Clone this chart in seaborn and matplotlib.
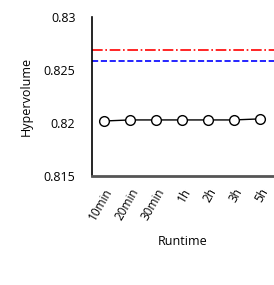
import numpy as np
import pandas as pd
import seaborn as sns
import matplotlib.pyplot as plt

# values
runtimes = ["10min", "20min", "30min", "1h", "2h", "3h", "5h"]
hypervolume = [0.8202, 0.8203, 0.8203, 0.8203, 0.8203, 0.8203, 0.8204]
ref_red = 0.8269
ref_blue = 0.8259

df = pd.DataFrame({"Runtime": runtimes, "Hypervolume": hypervolume})

sns.set_style("white")
plt.rcParams['font.family'] = ['Open Sans', 'DejaVu Sans']
plt.rcParams['text.color'] = 'black'
plt.rcParams['xtick.color'] = 'black'
plt.rcParams['ytick.color'] = 'black'
plt.rcParams['axes.labelcolor'] = 'black'

fig = plt.figure(figsize=(2.74, 2.85), dpi=100)
ax = fig.add_axes([0.336, 0.382, 0.664, 0.558])

sns.lineplot(data=df, x="Runtime", y="Hypervolume", sort=False, ax=ax,
             color="black", linewidth=1, marker="o", markersize=7,
             markerfacecolor="white", markeredgecolor="black", markeredgewidth=1)
ax.axhline(ref_red, color="red", linestyle="-.", linewidth=1.2)
ax.axhline(ref_blue, color="blue", linestyle="--", linewidth=1.2)

ax.set_xlim(-0.46, 6.54)
ax.set_ylim(0.815, 0.83)
ax.set_yticks([0.815, 0.82, 0.825, 0.83])
ax.set_yticklabels(["0.815", "0.82", "0.825", "0.83"], fontsize=9)
ax.set_xticks(range(len(runtimes)))
ax.set_xticklabels(runtimes, rotation=60, ha="right", rotation_mode="anchor", fontsize=8.5)
ax.tick_params(axis="x", length=0, pad=7)
ax.tick_params(axis="y", length=0, pad=12)
ax.set_xlabel("Runtime", fontsize=9, labelpad=9)
ax.set_ylabel("Hypervolume", fontsize=9, labelpad=8)

sns.despine(ax=ax, top=True, right=True)
ax.spines["left"].set_color("black")
ax.spines["left"].set_linewidth(1.2)
ax.spines["bottom"].set_color("#555555")
ax.spines["bottom"].set_linewidth(2)

fig.savefig("out.png", dpi=100)
